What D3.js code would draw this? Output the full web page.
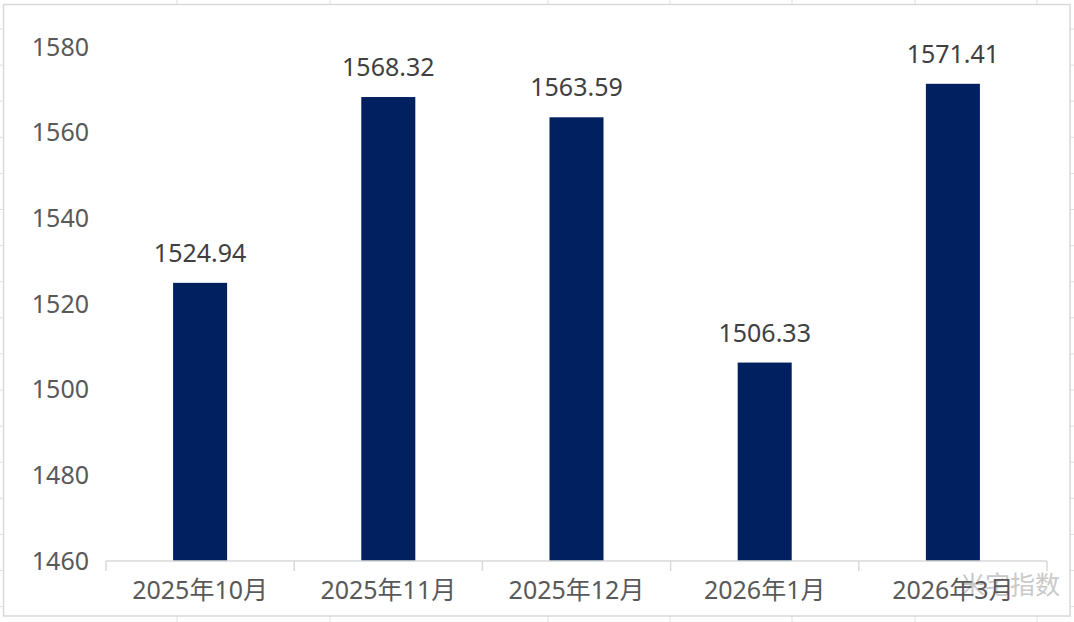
<!DOCTYPE html>
<html><head><meta charset="utf-8">
<script src="https://cdn.jsdelivr.net/npm/d3@7"></script>
<style>
html,body{margin:0;padding:0;background:#fff;}
svg{display:block;}
</style></head>
<body>
<svg id="chart" width="1074" height="622"></svg>
<script>
const categories = ["2025年10月", "2025年11月", "2025年12月", "2026年1月", "2026年3月"];
const values = [1524.94, 1568.32, 1563.59, 1506.33, 1571.41];
const valueLabels = ["1524.94", "1568.32", "1563.59", "1506.33", "1571.41"];
const yTicks = [1460, 1480, 1500, 1520, 1540, 1560, 1580];
const watermark = "米宅指数";

const W = 1074, H = 622;
const svg = d3.select("#chart");
const font = "'Noto Sans', 'Noto Sans CJK SC', sans-serif";

// spreadsheet background grid (outside chart frame)
const gridC = "#dedede";
const sheetCols = [177, 330, 548, 670, 792, 915, 1037];
const sheetRows = d3.range(29, 622, 36.1);
const bg = svg.append("g");
sheetCols.forEach(x => {
  bg.append("line").attr("x1", x).attr("x2", x).attr("y1", 0).attr("y2", 5).attr("stroke", gridC);
  bg.append("line").attr("x1", x).attr("x2", x).attr("y1", 616).attr("y2", 622).attr("stroke", gridC);
});
sheetRows.forEach(y => {
  bg.append("line").attr("x1", 0).attr("x2", 4).attr("y1", y).attr("y2", y).attr("stroke", gridC);
  bg.append("line").attr("x1", 1070).attr("x2", 1074).attr("y1", y).attr("y2", y).attr("stroke", gridC);
});
// chart frame
svg.append("rect").attr("x", 3.5).attr("y", 4.5).attr("width", 1066.5).attr("height", 611.5)
  .attr("fill", "#fff").attr("stroke", "#d9d9d9").attr("stroke-width", 1.5);

const x = d3.scaleBand().domain(categories).range([106, 1047]).paddingInner(0.713).paddingOuter(0.3565);
const y = d3.scaleLinear().domain([1460, 1580]).range([561, 47]);

// y axis labels
const yAxis = d3.axisLeft(y).tickValues(yTicks).tickSize(0).tickPadding(0).tickFormat(d3.format("d"));
const yg = svg.append("g").attr("transform", "translate(89,0)").call(yAxis);
yg.select(".domain").remove();
yg.selectAll("text").attr("font-family", font).attr("font-size", 25).attr("fill", "#595959");

// watermark
svg.append("text").attr("x", 1060).attr("y", 594).attr("text-anchor", "end")
  .attr("font-family", "'Noto Sans CJK SC', sans-serif").attr("font-size", 25)
  .attr("fill", "#c9c9c9").text(watermark);

// bars
svg.append("g").selectAll("rect").data(values).join("rect")
  .attr("x", (d, i) => x(categories[i]))
  .attr("width", x.bandwidth())
  .attr("y", d => y(d))
  .attr("height", d => y(1460) - y(d))
  .attr("fill", "#002060");

// x axis
const xb = d3.scaleBand().domain(categories).range([106, 1047]);
const xg = svg.append("g").attr("transform", "translate(0,561)");
xg.append("line").attr("x1", 106).attr("x2", 1047).attr("stroke", "#d9d9d9").attr("stroke-width", 1.5);
const bounds = categories.map(c => xb(c)).concat([1047]);
xg.selectAll("line.tk").data(bounds).join("line").attr("class", "tk")
  .attr("x1", d => d).attr("x2", d => d).attr("y1", 0).attr("y2", 10)
  .attr("stroke", "#d9d9d9").attr("stroke-width", 1.5);
xg.selectAll("text").data(categories).join("text")
  .attr("x", d => xb(d) + xb.bandwidth() / 2).attr("y", 38)
  .attr("text-anchor", "middle").attr("font-family", font).attr("font-size", 25)
  .attr("fill", "#595959").text(d => d);

// value labels
svg.append("g").selectAll("text").data(values).join("text")
  .attr("x", (d, i) => x(categories[i]) + x.bandwidth() / 2)
  .attr("y", d => y(d) - 21)
  .attr("text-anchor", "middle").attr("font-family", font).attr("font-size", 25)
  .attr("fill", "#404040").text((d, i) => valueLabels[i]);
</script>
</body></html>
